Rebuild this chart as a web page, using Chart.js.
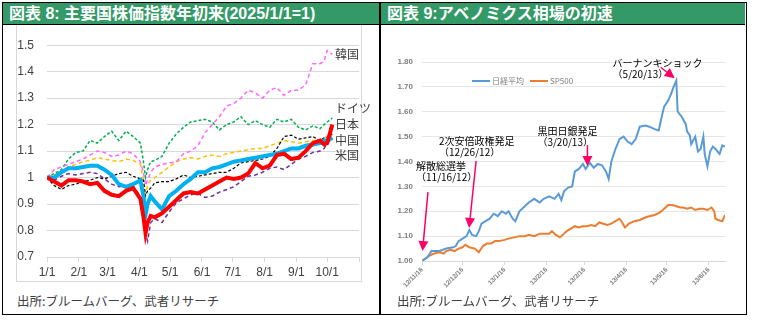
<!DOCTYPE html>
<html><head><meta charset="utf-8">
<script src="https://cdn.jsdelivr.net/npm/chart.js@4.4.1/dist/chart.umd.min.js"></script>
<style>
body{margin:0;width:759px;height:326px;background:#fff;position:relative;overflow:hidden;font-family:"Noto Sans CJK JP",sans-serif}
.abs{position:absolute}
.head{background:#339966;color:#fff;font:bold 16px "Liberation Sans","Noto Sans CJK JP",sans-serif;line-height:21px;padding-left:6px;box-sizing:border-box;white-space:nowrap}
.src{font-size:12.5px;line-height:16px;color:#404040;white-space:nowrap}
</style></head><body>
<div class="abs" style="left:2px;top:2px;width:743px;height:311px;border:1px solid #000"></div>
<div class="abs head" style="left:3px;top:3px;width:376px;height:21px">図表 8: 主要国株価指数年初来(2025/1/1=1)</div>
<div class="abs head" style="left:381px;top:3px;width:364px;height:21px">図表 9:アベノミクス相場の初速</div>
<div class="abs" style="left:3px;top:24px;width:742px;height:1px;background:#000"></div>
<div class="abs" style="left:379px;top:2px;width:2px;height:313px;background:#000"></div>
<div class="abs" style="left:16px;top:25px;width:344px;height:256px;border:1px solid #d9d9d9;border-top:none"></div>
<canvas id="c8" class="abs" width="360" height="256" style="left:17px;top:25px"></canvas>
<canvas id="c9" class="abs" width="364" height="270" style="left:381px;top:25px"></canvas>
<div class="abs src" style="left:17px;top:293px">出所:ブルームバーグ、武者リサーチ</div>
<div class="abs src" style="left:397px;top:293px">出所:ブルームバーグ、武者リサーチ</div>
<script>
// 図表8 データ (2025/1/1=1, 1/1からの日数)
const monthLabels = ['1/1','2/1','3/1','4/1','5/1','6/1','7/1','8/1','9/1','10/1',''];
const monthDays = [0,31,59,90,120,151,181,212,243,273,304];
const days = [0,7,14,21,28,35,42,49,56,63,70,77,84,91,94,96,98,101,105,112,119,126,133,140,147,154,161,168,175,182,189,196,203,210,217,224,231,238,245,252,259,266,270,273,278];
const japan = [1.00,0.985,0.97,0.99,0.99,0.985,0.975,0.98,0.95,0.935,0.93,0.95,0.96,0.92,0.85,0.79,0.83,0.855,0.85,0.865,0.89,0.915,0.94,0.945,0.94,0.955,0.97,0.985,1.00,0.995,1.00,1.015,1.055,1.035,1.045,1.085,1.09,1.07,1.075,1.10,1.13,1.14,1.125,1.13,1.20];
const usa = [1.00,1.00,1.02,1.035,1.035,1.04,1.045,1.045,1.03,1.01,0.975,0.965,0.975,0.99,0.93,0.86,0.90,0.93,0.91,0.88,0.93,0.95,0.975,0.995,1.02,1.02,1.035,1.04,1.05,1.06,1.065,1.07,1.075,1.08,1.085,1.09,1.10,1.11,1.11,1.12,1.125,1.13,1.14,1.14,1.15];
const china = [1.00,0.97,0.955,0.97,0.975,0.985,0.99,1.00,0.995,1.005,1.015,1.02,1.005,0.995,0.99,0.93,0.95,0.96,0.98,0.985,0.985,0.995,1.01,1.00,1.005,1.01,1.015,1.02,1.02,1.035,1.055,1.06,1.065,1.07,1.08,1.11,1.155,1.16,1.145,1.15,1.155,1.14,1.15,1.15,1.165];
const korea = [1.00,1.03,1.04,1.05,1.06,1.07,1.085,1.10,1.095,1.08,1.085,1.10,1.09,1.06,1.02,0.97,0.99,1.02,1.04,1.05,1.055,1.06,1.09,1.10,1.12,1.17,1.20,1.23,1.27,1.28,1.30,1.33,1.32,1.30,1.33,1.34,1.31,1.33,1.33,1.35,1.43,1.43,1.44,1.48,1.465];
const germany = [1.00,1.015,1.03,1.07,1.095,1.10,1.14,1.13,1.155,1.175,1.14,1.175,1.155,1.13,1.06,1.00,1.03,1.06,1.065,1.08,1.13,1.165,1.19,1.21,1.215,1.22,1.21,1.18,1.20,1.21,1.23,1.20,1.215,1.20,1.19,1.22,1.21,1.22,1.19,1.18,1.195,1.185,1.20,1.21,1.225];
const uk = [1.00,1.01,1.02,1.04,1.05,1.06,1.065,1.075,1.07,1.065,1.06,1.07,1.065,1.05,0.99,0.94,0.97,0.99,1.00,1.02,1.04,1.06,1.07,1.075,1.07,1.08,1.085,1.08,1.09,1.095,1.10,1.105,1.11,1.11,1.12,1.13,1.14,1.135,1.13,1.135,1.14,1.14,1.15,1.155,1.16];
const taiwan = [1.00,0.99,1.005,1.015,1.01,1.015,1.02,1.015,0.995,0.975,0.965,0.97,0.965,0.93,0.85,0.79,0.76,0.83,0.845,0.83,0.87,0.905,0.92,0.935,0.94,0.925,0.93,0.945,0.955,0.965,0.985,1.005,1.01,1.02,1.035,1.04,1.03,1.05,1.07,1.08,1.095,1.10,1.11,1.13,1.15];
const endLabels = ['韓国','ドイツ','日本','中国','米国'];

// 図表9 データ (2012/11/16=1, 11/16からの日数)
const tickDays9 = [0,30,61,92,120,151,181,212];
const tickLabels9 = ['12/11/16','12/12/16','13/1/16','13/2/16','13/3/16','13/4/16','13/5/16','13/6/16'];
const nikkeiDays = [0,4,7,13,18,23,25,27,30,33,35,37,40,42,44,47,50,53,56,59,62,64,67,69,72,76,79,83,87,90,94,98,101,103,105,108,111,113,116,119,121,124,127,130,133,136,138,140,143,146,149,152,155,158,161,165,168,172,175,177,179,182,184,186,188,189,192,195,196,198,199,202,204,206,208,209,211,213,215,217,220,222,224];
const nikkei = [1.00,1.015,1.04,1.04,1.05,1.055,1.06,1.08,1.09,1.10,1.125,1.105,1.10,1.12,1.15,1.16,1.17,1.19,1.18,1.20,1.19,1.20,1.17,1.16,1.20,1.22,1.235,1.25,1.235,1.25,1.26,1.25,1.27,1.245,1.28,1.295,1.30,1.36,1.37,1.39,1.37,1.395,1.375,1.39,1.385,1.36,1.33,1.40,1.45,1.49,1.50,1.48,1.47,1.49,1.54,1.545,1.54,1.53,1.525,1.575,1.62,1.645,1.67,1.70,1.725,1.60,1.58,1.55,1.52,1.505,1.47,1.50,1.44,1.45,1.50,1.43,1.38,1.44,1.46,1.45,1.43,1.465,1.46];
const spDays = [0,5,9,13,16,18,21,24,27,30,32,35,39,42,45,48,51,54,57,61,64,68,72,76,79,83,87,90,94,96,99,102,105,107,110,113,116,119,122,125,128,131,134,137,140,143,146,148,150,153,157,161,165,168,172,176,179,182,185,188,191,193,196,199,202,205,208,211,214,216,217,219,222,224];
const sp500 = [1.00,1.02,1.03,1.035,1.03,1.04,1.045,1.04,1.05,1.055,1.065,1.055,1.05,1.035,1.06,1.07,1.07,1.08,1.08,1.085,1.09,1.095,1.10,1.10,1.105,1.10,1.11,1.11,1.11,1.12,1.105,1.095,1.11,1.12,1.13,1.14,1.135,1.14,1.14,1.145,1.14,1.155,1.15,1.145,1.15,1.16,1.17,1.155,1.135,1.15,1.16,1.165,1.175,1.18,1.185,1.195,1.21,1.225,1.225,1.22,1.215,1.215,1.21,1.215,1.205,1.21,1.21,1.205,1.215,1.20,1.17,1.165,1.16,1.185];

Chart.defaults.animation = false;
Chart.defaults.font.family = '"Liberation Sans", "Noto Sans CJK JP", sans-serif';

const pts = (xs, ys) => xs.map((x, i) => ({x: x, y: ys[i]}));
const line = (label, data, color, width, dash) => ({
    label: label, data: pts(days, data), borderColor: color, backgroundColor: color,
    borderWidth: width, borderDash: dash || [], pointRadius: 0, tension: 0
});

// 右端の国名
const endLabelPlugin = {
    id: 'endLabels',
    afterDatasetsDraw(chart) {
        const ys = [1.464, 1.26, 1.199, 1.142, 1.084];
        const c = chart.ctx, sx = chart.scales.x, sy = chart.scales.y;
        c.save();
        c.font = '12px "Noto Sans CJK JP"';
        c.fillStyle = '#404040';
        c.textBaseline = 'middle';
        endLabels.forEach((t, i) => c.fillText(t, sx.getPixelForValue(280.5), sy.getPixelForValue(ys[i])));
        c.restore();
    }
};

new Chart(document.getElementById('c8'), {
    type: 'line',
    data: {
        datasets: [
            line('日本', japan, '#FF0000', 4),
            line('米国', usa, '#00B0F0', 4),
            line('中国', china, '#000000', 1.2, [3, 2]),
            line('韓国', korea, '#FF66FF', 1.5, [4, 3]),
            line('ドイツ', germany, '#00B050', 1.5, [3, 2]),
            line('英国', uk, '#FFC000', 1.5, [4, 3]),
            line('台湾', taiwan, '#7030A0', 1.5, [4, 3])
        ]
    },
    options: {
        responsive: false,
        layout: { padding: { left: 0, right: 18, top: 9, bottom: 0 } },
        plugins: { legend: { display: false }, tooltip: { enabled: false } },
        scales: {
            x: {
                type: 'linear', min: 0, max: 304,
                afterBuildTicks: s => { s.ticks = monthDays.map(v => ({ value: v })); },
                afterFit: s => { s.height = 24; },
                ticks: { autoSkip: false, maxRotation: 0, padding: 3, color: '#404040', font: { size: 12 },
                    callback: (v, i) => monthLabels[i] },
                grid: { drawOnChartArea: false, tickLength: 5, color: '#d9d9d9' },
                border: { color: '#d9d9d9' }
            },
            y: {
                min: 0.7, max: 1.5,
                afterFit: s => { s.width = 30; },
                ticks: { stepSize: 0.1, padding: 13, color: '#404040', font: { size: 12 },
                    callback: v => String(+v.toFixed(1)) },
                grid: { color: '#d9d9d9', drawTicks: false },
                border: { display: false }
            }
        }
    },
    plugins: [endLabelPlugin]
});

// 図表9 注記と矢印
const notes9 = [
    { text: ['解散総選挙', '（11/16/12）'], tx: -4.4, ty: [1.3815, 1.337], from: [4.4, 1.277], to: [0.4, 1.04] },
    { text: ['2次安倍政権発足', '（12/26/12）'], tx: 12.6, ty: [1.482, 1.438], from: [40, 1.402], to: [34.8, 1.133] },
    { text: ['黒田日銀発足', '（3/20/13）'], tx: 85.3, ty: [1.522, 1.478], from: [122.3, 1.466], to: [122.3, 1.382] },
    { text: ['バーナンキショック', '（5/20/13）'], tx: 140.9, ty: [1.795, 1.751], from: [176.4, 1.779], to: [186.8, 1.735] }
];

const notesPlugin = {
    id: 'notes9',
    afterDatasetsDraw(chart) {
        const c = chart.ctx, sx = chart.scales.x, sy = chart.scales.y;
        c.save();
        c.font = '10px "Noto Sans CJK JP"';
        c.fillStyle = '#000';
        c.textBaseline = 'middle';
        notes9.forEach(n => {
            n.text.forEach((t, i) => c.fillText(t, sx.getPixelForValue(n.tx), sy.getPixelForValue(n.ty[i])));
            const x1 = sx.getPixelForValue(n.from[0]), y1 = sy.getPixelForValue(n.from[1]);
            const x2 = sx.getPixelForValue(n.to[0]), y2 = sy.getPixelForValue(n.to[1]);
            const a = Math.atan2(y2 - y1, x2 - x1);
            c.strokeStyle = '#FF0066';
            c.fillStyle = '#FF0066';
            c.lineWidth = 1.5;
            c.beginPath();
            c.moveTo(x1, y1);
            c.lineTo(x2 - 8 * Math.cos(a), y2 - 8 * Math.sin(a));
            c.stroke();
            c.beginPath();
            c.moveTo(x2, y2);
            c.lineTo(x2 - 10 * Math.cos(a) + 5 * Math.sin(a), y2 - 10 * Math.sin(a) - 5 * Math.cos(a));
            c.lineTo(x2 - 10 * Math.cos(a) - 5 * Math.sin(a), y2 - 10 * Math.sin(a) + 5 * Math.cos(a));
            c.closePath();
            c.fill();
            c.fillStyle = '#000';
        });
        c.restore();
    },
    afterDraw(chart) {
        // 凡例 (プロット内)
        const c = chart.ctx, ca = chart.chartArea;
        let x = ca.left + 50;
        const y = ca.top + 19;
        c.save();
        c.font = '8px "Noto Sans CJK JP"';
        c.textBaseline = 'middle';
        chart.data.datasets.forEach(d => {
            c.strokeStyle = d.borderColor;
            c.lineWidth = 2;
            c.beginPath();
            c.moveTo(x, y);
            c.lineTo(x + 18, y);
            c.stroke();
            c.fillStyle = '#7f7f7f';
            c.fillText(d.label, x + 20, y);
            x += 20 + c.measureText(d.label).width + 6;
        });
        c.restore();
    }
};

new Chart(document.getElementById('c9'), {
    type: 'line',
    data: {
        datasets: [
            { label: '日経平均', data: pts(nikkeiDays, nikkei), borderColor: '#5B9BD5', borderWidth: 2, pointRadius: 0, tension: 0 },
            { label: 'SP500', data: pts(spDays, sp500), borderColor: '#ED7D31', borderWidth: 2, pointRadius: 0, tension: 0 }
        ]
    },
    options: {
        responsive: false,
        layout: { padding: { left: 0, right: 20, top: 37, bottom: 0 } },
        plugins: { legend: { display: false }, tooltip: { enabled: false } },
        scales: {
            x: {
                type: 'linear', min: 0, max: 224,
                afterBuildTicks: s => { s.ticks = tickDays9.map(v => ({ value: v })); },
                afterFit: s => { s.height = 34; },
                ticks: { autoSkip: false, minRotation: 45, maxRotation: 45, padding: 1, color: '#7f7f7f',
                    font: { size: 6.5, weight: 'bold' }, callback: (v, i) => tickLabels9[i] },
                grid: { drawOnChartArea: false, tickLength: 4, color: '#d9d9d9' },
                border: { color: '#d9d9d9' }
            },
            y: {
                min: 1.0, max: 1.8,
                afterFit: s => { s.width = 41; },
                ticks: { stepSize: 0.1, padding: 9, color: '#7f7f7f', font: { size: 8, weight: 'bold' },
                    callback: v => v.toFixed(2) },
                grid: { color: '#e6e6e6', drawTicks: false },
                border: { display: false }
            }
        }
    },
    plugins: [notesPlugin]
});
</script>
</body></html>
